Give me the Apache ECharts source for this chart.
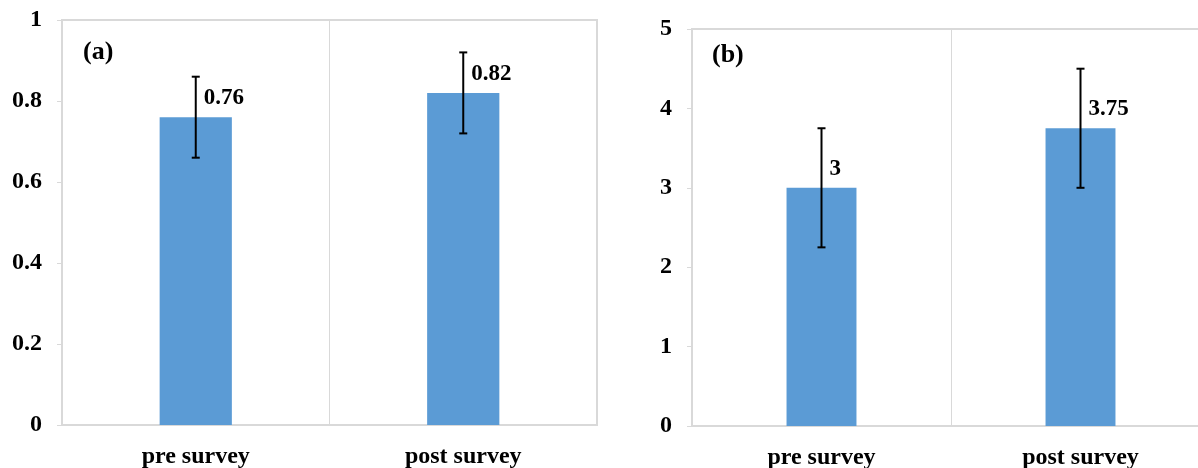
<!DOCTYPE html>
<html>
<head>
<meta charset="utf-8">
<script src="https://cdn.jsdelivr.net/npm/echarts@6/dist/echarts.min.js"></script>
<style>html,body{margin:0;padding:0;background:#fff;overflow:hidden}#c{width:1198px;height:468px}</style>
</head>
<body>
<div id="c"></div>
<script>
const categories = ['pre survey', 'post survey'];
const scoresA = [0.76, 0.82];
const errorsA = [0.1, 0.1];
const scoresB = [3, 3.75];
const errorsB = [0.75, 0.75];
const axisA = { min: 0, max: 1, interval: 0.2 };
const axisB = { min: 0, max: 5, interval: 1 };
const panelTitles = ['(a)', '(b)'];

const FONT = '"Liberation Serif", "Times New Roman", serif';
const BAR = '#5b9bd5';
const GRID_GRAY = '#d9d9d9';

function errorSeries(idx, means, errs) {
  return {
    type: 'custom',
    xAxisIndex: idx, yAxisIndex: idx,
    z: 5,
    data: means.map((m, i) => [i, m - errs[i], m + errs[i]]),
    renderItem: function (params, api) {
      const x = api.value(0);
      const lo = api.coord([x, api.value(1)]);
      const hi = api.coord([x, api.value(2)]);
      const cap = 4;
      const st = { stroke: '#000', lineWidth: 2 };
      return {
        type: 'group',
        children: [
          { type: 'line', shape: { x1: lo[0], y1: lo[1], x2: hi[0], y2: hi[1] }, style: st },
          { type: 'line', shape: { x1: lo[0] - cap, y1: lo[1], x2: lo[0] + cap, y2: lo[1] }, style: st },
          { type: 'line', shape: { x1: hi[0] - cap, y1: hi[1], x2: hi[0] + cap, y2: hi[1] }, style: st }
        ]
      };
    }
  };
}

function barSeries(idx, vals) {
  return {
    type: 'bar',
    xAxisIndex: idx, yAxisIndex: idx,
    data: vals,
    barWidth: '27%',
    itemStyle: { color: BAR },
    label: {
      show: true,
      position: ['50%', 0],
      align: 'left',
      verticalAlign: 'middle',
      offset: [8, -19],
      fontFamily: FONT, fontWeight: 'bold', fontSize: 23, color: '#000'
    }
  };
}

function xAxis(idx) {
  return {
    type: 'category', gridIndex: idx, data: categories,
    axisLine: { show: false },
    axisTick: { show: false },
    splitLine: { show: true, lineStyle: { color: GRID_GRAY, width: 1 } },
    axisLabel: { fontFamily: FONT, fontWeight: 'bold', fontSize: 24, color: '#000', margin: 20 }
  };
}

function yAxis(idx, ax) {
  return {
    type: 'value', gridIndex: idx, min: ax.min, max: ax.max, interval: ax.interval,
    axisLine: { show: false },
    axisTick: { show: true, length: 5, lineStyle: { color: GRID_GRAY, width: 1 } },
    splitLine: { show: false },
    axisLabel: { fontFamily: FONT, fontWeight: 'bold', fontSize: 24, color: '#000', margin: 20 }
  };
}

const chart = echarts.init(document.getElementById('c'));
chart.setOption({
  animation: false,
  backgroundColor: '#fff',
  title: [
    { text: panelTitles[0], left: 83, top: 39, padding: 0, textStyle: { fontFamily: FONT, fontWeight: 'bold', fontSize: 26, color: '#000' } },
    { text: panelTitles[1], left: 712, top: 42, padding: 0, textStyle: { fontFamily: FONT, fontWeight: 'bold', fontSize: 26, color: '#000' } }
  ],
  grid: [
    { left: 62, top: 20, width: 535, height: 405, outerBoundsMode: 'none', show: true, borderColor: GRID_GRAY, borderWidth: 2 },
    { left: 692, top: 29, width: 518, height: 397, outerBoundsMode: 'none', show: true, borderColor: GRID_GRAY, borderWidth: 2 }
  ],
  xAxis: [xAxis(0), xAxis(1)],
  yAxis: [yAxis(0, axisA), yAxis(1, axisB)],
  series: [
    barSeries(0, scoresA),
    errorSeries(0, scoresA, errorsA),
    barSeries(1, scoresB),
    errorSeries(1, scoresB, errorsB)
  ]
});
</script>
</body>
</html>
